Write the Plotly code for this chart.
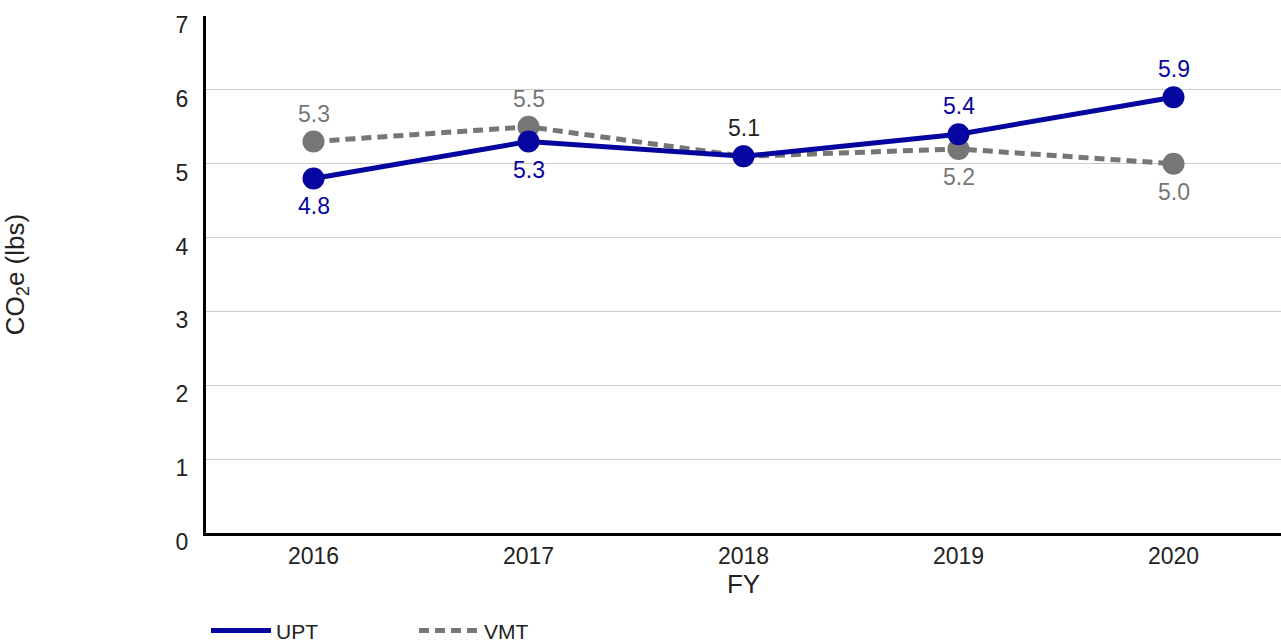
import plotly.graph_objects as go

years = ["2016", "2017", "2018", "2019", "2020"]
upt = [4.8, 5.3, 5.1, 5.4, 5.9]
vmt = [5.3, 5.5, 5.1, 5.2, 5.0]
y_ticks = [0, 1, 2, 3, 4, 5, 6, 7]

BLUE = "#0505a0"
GRAY = "#767676"
DARK = "#222222"
FONT = "Liberation Sans, Arial, sans-serif"

# label placement per point: +1 above the marker, -1 below
upt_side = [-1, -1, 1, 1, 1]
upt_col = [BLUE, BLUE, DARK, BLUE, BLUE]
vmt_side = [1, 1, 0, -1, -1]  # 0: 2018 label shared with UPT

fig = go.Figure()
fig.add_trace(go.Scatter(
    x=years, y=vmt, name="VMT", mode="lines+markers",
    line=dict(color=GRAY, width=5, dash="10px,6px"),
    marker=dict(size=22, color=GRAY), showlegend=False,
))
fig.add_trace(go.Scatter(
    x=years, y=upt, name="UPT", mode="lines+markers",
    line=dict(color=BLUE, width=5),
    marker=dict(size=22, color=BLUE), showlegend=False,
))
# legend entries (line only)
fig.add_trace(go.Scatter(x=[None], y=[None], name="UPT", mode="lines",
                         line=dict(color=BLUE, width=5), legendrank=1))
fig.add_trace(go.Scatter(x=[None], y=[None], name="VMT", mode="lines",
                         line=dict(color=GRAY, width=5, dash="10px,6px"), legendrank=2))

# value labels; category positions given by index on the category axis
for i, (v, side, col) in enumerate(zip(upt, upt_side, upt_col)):
    fig.add_annotation(x=i, y=v, text=f"{v:.1f}", showarrow=False,
                       yshift=28 * side, font=dict(color=col, size=23, family=FONT))
for i, (v, side) in enumerate(zip(vmt, vmt_side)):
    if side:
        fig.add_annotation(x=i, y=v, text=f"{v:.1f}", showarrow=False,
                           yshift=28 * side, font=dict(color=GRAY, size=23, family=FONT))

fig.update_layout(
    width=1281, height=643,
    margin=dict(l=206, r=0, t=16, b=110, autoexpand=False),
    plot_bgcolor="white", paper_bgcolor="white",
    font=dict(family=FONT, size=22, color=DARK),
    showlegend=True,
    legend=dict(orientation="h", x=0, xanchor="left",
                yref="container", y=0.019, yanchor="middle",
                itemwidth=60, entrywidth=133, font=dict(size=21),
                itemclick=False),
    xaxis=dict(
        type="category", range=[-0.5, 4.5],
        showline=True, linecolor="black", linewidth=3,
        showgrid=False, ticks="", tickfont=dict(size=23),
        title=dict(text="FY", standoff=6),
    ),
    yaxis=dict(
        range=[0, 7], tickvals=y_ticks,
        showline=True, linecolor="black", linewidth=3,
        showgrid=True, gridcolor="#cccccc", gridwidth=1,
        zeroline=False, ticks="", tickfont=dict(size=23),
        ticklabelshift=9, ticklabelstandoff=10,
        title=dict(text="CO<sub>2</sub>e (lbs)", standoff=150),
    ),
)

fig.write_html("out.html")
